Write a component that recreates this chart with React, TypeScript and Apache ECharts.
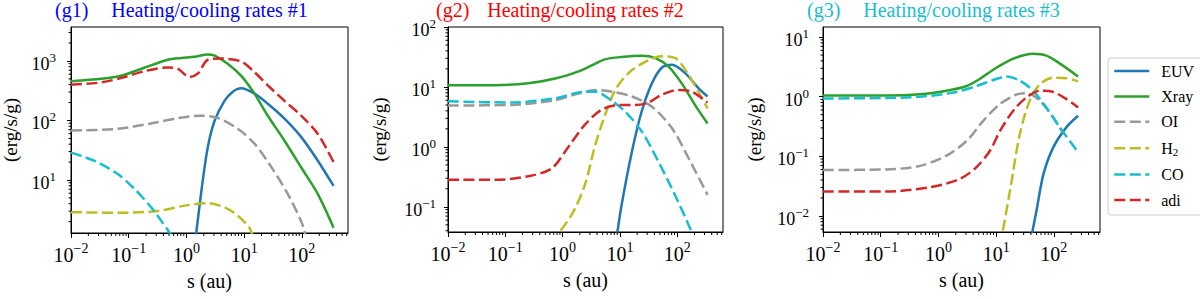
import React, { useEffect, useRef } from 'react';
import * as echarts from 'echarts';

// ---------- data: [log10(s / au), log10(rate / (erg/s/g))] ----------
const seriesNames = ['EUV', 'Xray', 'OI', 'H2', 'CO', 'adi'];

// panel g1
const g1EUV = [[0.12, -0.3], [0.26, 0.82], [0.37, 1.55], [0.49, 2.0], [0.66, 2.33], [0.8, 2.48], [0.95, 2.54], [1.18, 2.45], [1.41, 2.28], [1.7, 2.03], [1.99, 1.72], [2.28, 1.32], [2.55, 0.9]];
const g1Xray = [[-2, 2.66], [-1.47, 2.7], [-1.13, 2.75], [-0.72, 2.89], [-0.32, 3.02], [-0.09, 3.05], [0.14, 3.07], [0.37, 3.11], [0.49, 3.09], [0.72, 2.95], [0.95, 2.75], [1.18, 2.45], [1.41, 2.08], [1.7, 1.66], [1.99, 1.21], [2.28, 0.76], [2.55, 0.2]];
const g1OI = [[-2, 1.83], [-1.19, 1.86], [-0.61, 1.95], [-0.15, 2.04], [0.26, 2.08], [0.55, 2.04], [0.89, 1.86], [1.18, 1.61], [1.47, 1.22], [1.76, 0.76], [2.0, 0.28], [2.07, 0.05]];
const g1H2 = [[-2, 0.46], [-1.19, 0.45], [-0.49, 0.48], [-0.03, 0.57], [0.37, 0.61], [0.66, 0.54], [0.89, 0.4], [1.09, 0.2], [1.15, 0.06]];
const g1CO = [[-2, 1.46], [-1.59, 1.32], [-1.19, 1.1], [-0.9, 0.85], [-0.61, 0.54], [-0.44, 0.32], [-0.29, 0.11], [-0.2, -0.05]];
const g1adi = [[-2, 2.6], [-1.47, 2.64], [-1.07, 2.73], [-0.72, 2.83], [-0.32, 2.89], [-0.15, 2.87], [0.05, 2.73], [0.2, 2.79], [0.37, 3.02], [0.6, 3.04], [0.95, 2.99], [1.18, 2.81], [1.41, 2.59], [1.7, 2.33], [1.99, 2.08], [2.28, 1.77], [2.55, 1.3]];

// panel g2
const g2EUV = [[0.93, -1.6], [1.03, -0.97], [1.21, -0.08], [1.38, 0.59], [1.56, 1.06], [1.73, 1.32], [1.91, 1.37], [2.14, 1.23], [2.37, 0.98], [2.53, 0.84]];
const g2Xray = [[-2, 1.03], [-1.18, 1.03], [-0.6, 1.06], [-0.13, 1.14], [0.28, 1.26], [0.51, 1.36], [0.74, 1.46], [1.03, 1.5], [1.38, 1.52], [1.62, 1.48], [1.85, 1.34], [2.08, 1.06], [2.31, 0.7], [2.53, 0.39]];
const g2OI = [[-2, 0.69], [-0.89, 0.7], [-0.13, 0.78], [0.28, 0.89], [0.57, 0.95], [0.86, 0.92], [1.21, 0.84], [1.56, 0.67], [1.91, 0.31], [2.2, -0.19], [2.53, -0.8]];
const g2H2 = [[-0.2, -1.6], [0.16, -1.13], [0.39, -0.63], [0.57, 0.03], [0.74, 0.53], [0.92, 0.95], [1.15, 1.23], [1.44, 1.42], [1.73, 1.51], [1.97, 1.48], [2.2, 1.2], [2.37, 0.92], [2.53, 0.64]];
const g2CO = [[-2, 0.76], [-0.89, 0.74], [-0.13, 0.81], [0.39, 0.92], [0.57, 0.92], [0.8, 0.81], [1.09, 0.59], [1.38, 0.26], [1.67, -0.24], [1.96, -0.8], [2.23, -1.37], [2.27, -1.5]];
const g2adi = [[-2, -0.55], [-1.18, -0.55], [-0.6, -0.49], [-0.19, -0.36], [0.1, 0.0], [0.39, 0.37], [0.68, 0.62], [0.98, 0.7], [1.27, 0.7], [1.5, 0.74], [1.73, 0.87], [2.02, 0.95], [2.26, 0.92], [2.53, 0.74]];

// panel g3
const g3EUV = [[1.58, -2.5], [1.7, -1.91], [1.82, -1.3], [1.99, -0.85], [2.22, -0.51], [2.42, -0.32]];
const g3Xray = [[-2, 0.02], [-0.9, 0.02], [-0.32, 0.04], [0.14, 0.1], [0.49, 0.18], [0.72, 0.3], [1.01, 0.49], [1.3, 0.64], [1.64, 0.72], [1.87, 0.69], [2.1, 0.56], [2.42, 0.34]];
const g3OI = [[-2, -1.23], [-0.9, -1.22], [-0.32, -1.16], [0.14, -0.99], [0.49, -0.74], [0.78, -0.4], [1.07, -0.12], [1.36, 0.04], [1.53, 0.06], [1.76, -0.07], [1.99, -0.35], [2.15, -0.6]];
const g3H2 = [[1.07, -2.5], [1.24, -1.58], [1.41, -0.63], [1.58, -0.07], [1.76, 0.21], [1.99, 0.32], [2.22, 0.31], [2.42, 0.26]];
const g3CO = [[-2, -0.03], [-0.9, -0.02], [-0.32, 0.0], [0.26, 0.07], [0.66, 0.18], [0.95, 0.28], [1.18, 0.34], [1.41, 0.27], [1.64, 0.1], [1.87, -0.18], [2.1, -0.51], [2.42, -0.93]];
const g3adi = [[-2, -1.59], [-0.9, -1.59], [-0.15, -1.52], [0.37, -1.38], [0.66, -1.18], [0.89, -0.91], [1.07, -0.57], [1.3, -0.23], [1.53, -0.01], [1.76, 0.1], [1.99, 0.08], [2.22, -0.04], [2.42, -0.18]];

// axis extents (log10) and major tick exponents
const xExtent = [-2, 2.8];
const xMajor = [-2, -1, 0, 1, 2];
const yExtents = [[0.11, 3.57], [-1.42, 2.0], [-2.27, 1.17]];
const yMajors = [[1, 2, 3], [-1, 0, 1, 2], [-2, -1, 0, 1]];

const panelLabels = ['(g1)', '(g2)', '(g3)'];
const panelTitles = ['Heating/cooling rates #1', 'Heating/cooling rates #2', 'Heating/cooling rates #3'];

const panelData = [
  [g1EUV, g1Xray, g1OI, g1H2, g1CO, g1adi],
  [g2EUV, g2Xray, g2OI, g2H2, g2CO, g2adi],
  [g3EUV, g3Xray, g3OI, g3H2, g3CO, g3adi],
];

// ---------- styling ----------
const FONT = '"Liberation Serif", "Times New Roman", serif';
const colors = ['#1f77b4', '#2ca02c', '#999999', '#bcbd22', '#17becf', '#d62728'];
const dashed = [false, false, true, true, true, true];
const titleColors = ['#0000ff', '#ff0000', '#17becf'];
const grids = [
  { left: 71, top: 27, width: 277, height: 206 },
  { left: 448, top: 27, width: 275, height: 205 },
  { left: 823, top: 27, width: 277, height: 205 },
];
const yNameGaps = [51, 59, 59];
const yLabelMargins = [15, 12, 14];
const labelX = [55, 436, 807];

function minorTicks(min: number, max: number): number[] {
  const out: number[] = [];
  for (let n = Math.floor(min) - 1; n <= Math.ceil(max); n++) {
    for (let k = 2; k <= 9; k++) {
      const v = n + Math.log10(k);
      if (v > min + 1e-6 && v < max - 1e-6) out.push(v);
    }
  }
  return out;
}

function expLabel(v: number): string {
  const e = Math.round(v);
  if (Math.abs(v - e) > 1e-6) return '';
  const s = e < 0 ? '\u2212' + Math.abs(e) : String(e);
  return '{b|10}{s|' + s + '}';
}

const xRich = {
  b: { fontFamily: FONT, fontSize: 20, lineHeight: 22, padding: [6, 0, 0, 0], color: '#000' },
  s: { fontFamily: FONT, fontSize: 14, lineHeight: 14, padding: [0, 0, 8, 0], color: '#000' },
};
const yRich = {
  b: { fontFamily: FONT, fontSize: 18, lineHeight: 20, padding: [6, 0, 0, 0], color: '#000' },
  s: { fontFamily: FONT, fontSize: 13, lineHeight: 13, padding: [0, 0, 7, 0], color: '#000' },
};

function minorTickSeries(i: number, ymin: number, ymax: number) {
  const xm = minorTicks(xExtent[0], xExtent[1]).map((v) => [v, ymin, 0]);
  const ym = minorTicks(ymin, ymax).map((v) => [xExtent[0], v, 1]);
  return {
    type: 'custom', xAxisIndex: i, yAxisIndex: i, clip: false, silent: true, z: 5,
    data: xm.concat(ym),
    renderItem: (_p: any, api: any) => {
      const p = api.coord([api.value(0), api.value(1)]);
      const isY = api.value(2) === 1;
      return {
        type: 'line',
        shape: isY
          ? { x1: p[0] - 2.5, y1: p[1], x2: p[0], y2: p[1] }
          : { x1: p[0], y1: p[1], x2: p[0], y2: p[1] + 3 },
        style: { stroke: '#000', lineWidth: 1 },
      };
    },
  };
}

function buildOption() {
  const xAxis: any[] = [];
  const yAxis: any[] = [];
  const series: any[] = [];
  const graphic: any[] = [];

  grids.forEach((g, i) => {
    const [ymin, ymax] = yExtents[i];
    xAxis.push({
      type: 'value', gridIndex: i, min: xExtent[0], max: xExtent[1], interval: 1, position: 'bottom',
      axisLine: { show: true, onZero: false, lineStyle: { color: '#000', width: 1 } },
      axisTick: { show: true, inside: false, length: 5, lineStyle: { color: '#000', width: 1 }, customValues: xMajor },
      axisLabel: { show: true, customValues: xMajor, margin: 8, formatter: expLabel, rich: xRich, color: '#000' },
      splitLine: { show: false },
      name: 's (au)', nameLocation: 'middle', nameGap: 38,
      nameTextStyle: { fontFamily: FONT, fontSize: 20, color: '#000' },
    });
    yAxis.push({
      type: 'value', gridIndex: i, min: ymin, max: ymax, minInterval: 1, maxInterval: 1, position: 'left',
      axisLine: { show: true, onZero: false, lineStyle: { color: '#000', width: 1 } },
      axisTick: { show: true, inside: false, length: 4, lineStyle: { color: '#000', width: 1 }, customValues: yMajors[i] },
      axisLabel: { show: true, customValues: yMajors[i], margin: yLabelMargins[i], formatter: expLabel, rich: yRich, color: '#000' },
      splitLine: { show: false },
      name: '(erg/s/g)', nameLocation: 'middle', nameGap: yNameGaps[i],
      nameTextStyle: { fontFamily: FONT, fontSize: 19, color: '#000' },
    });

    panelData[i].forEach((d, j) => {
      series.push({
        type: 'line', name: seriesNames[j], xAxisIndex: i, yAxisIndex: i,
        data: d, symbol: 'none', smooth: 0.3, clip: true, silent: true,
        lineStyle: { color: colors[j], width: 2.5, type: dashed[j] ? [11, 4.5] : 'solid' },
        itemStyle: { color: colors[j] },
      });
    });
    series.push(minorTickSeries(i, ymin, ymax));

    graphic.push({
      type: 'text', x: labelX[i], y: 0,
      style: { text: panelLabels[i], fontFamily: FONT, fontSize: 20, fill: titleColors[i], align: 'left', verticalAlign: 'top' },
    });
    graphic.push({
      type: 'text', x: g.left + g.width / 2, y: 0,
      style: { text: panelTitles[i], fontFamily: FONT, fontSize: 20, fill: titleColors[i], align: 'center', verticalAlign: 'top' },
    });
  });

  return {
    animation: false,
    backgroundColor: '#fff',
    textStyle: { fontFamily: FONT },
    grid: grids.map((g) => ({ ...g, show: true, borderColor: '#000', borderWidth: 1, backgroundColor: 'transparent', containLabel: false, outerBoundsMode: 'none' })),
    xAxis, yAxis, series, graphic,
    legend: {
      orient: 'vertical', left: 1108, top: 58,
      itemWidth: 35, itemHeight: 14, itemGap: 9.4,
      padding: [5, 8, 7, 5],
      borderColor: '#cccccc', borderWidth: 1, borderRadius: 3, backgroundColor: '#fff',
      data: seriesNames,
      lineStyle: { width: 2.5 },
      itemStyle: { color: 'rgba(0,0,0,0)', borderColor: 'rgba(0,0,0,0)', borderWidth: 0, opacity: 0 },
      selectedMode: false,
      formatter: (name: string) => (name === 'H2' ? '{m|H}{sub|2}' : '{m|' + name + '}'),
      textStyle: {
        fontFamily: FONT, fontSize: 16, color: '#000',
        rich: {
          m: { fontFamily: FONT, fontSize: 16, lineHeight: 16, padding: [0, 0, 0, 7], color: '#000' },
          sub: { fontFamily: FONT, fontSize: 11, lineHeight: 11, padding: [7, 0, 0, 0], color: '#000' },
        },
      },
    },
  };
}

export default function App() {
  const ref = useRef<HTMLDivElement>(null);
  useEffect(() => {
    if (!ref.current) return;
    const chart = echarts.init(ref.current, undefined, { renderer: 'svg' });
    chart.setOption(buildOption() as any);
    return () => chart.dispose();
  }, []);
  return <div ref={ref} style={{ position: 'absolute', left: 0, top: 0, width: 1200, height: 299 }} />;
}
